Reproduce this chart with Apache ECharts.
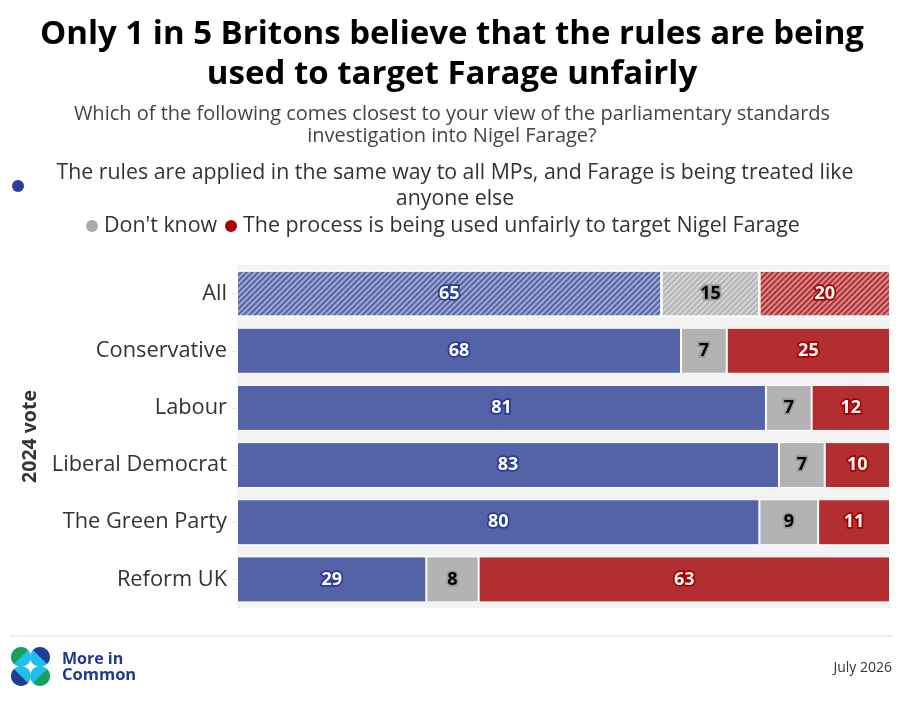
<!DOCTYPE html>
<html><head><meta charset="utf-8">
<script src="https://cdn.jsdelivr.net/npm/echarts@6/dist/echarts.min.js"></script>
<style>html,body{margin:0;padding:0;background:#fff}#c{width:904px;height:702px}</style>
</head><body><div id="c"></div>
<script>
const categories = ['All','Conservative','Labour','Liberal Democrat','The Green Party','Reform UK'];
const seriesNames = ['The rules are applied in the same way to all MPs, and Farage is being treated like anyone else', "Don't know", 'The process is being used unfairly to target Nigel Farage'];
const sameRules = [65, 68, 81, 83, 80, 29];
const dontKnow = [15, 7, 7, 7, 9, 8];
const unfair = [20, 25, 12, 10, 11, 63];

const FONT = 'Open Sans';
const barColors = ['#5462a8', '#b3b3b3', '#b22e30'];
const labelFill = ['#ffffff', '#000000', '#ffffff'];
const labelBorder = ['#2b3a98', '#9a9a9a', '#aa0000'];

function mkData(arr) {
  return arr.map((v, k) => k === 0 ? {
    value: v,
    itemStyle: { decal: { symbol: 'rect', symbolSize: 1, dashArrayX: [1, 0], dashArrayY: [2, 2], rotation: -Math.PI / 4, color: 'rgba(255,255,255,0.45)' } }
  } : v);
}
function mkSeries(arr, i) {
  return {
    name: seriesNames[i], type: 'bar', stack: 's', barWidth: 46,
    data: mkData(arr),
    itemStyle: { color: barColors[i], borderColor: '#ffffff', borderWidth: 1 },
    label: { show: true, position: 'inside', fontFamily: FONT, fontWeight: 'bold', fontSize: 18,
      color: labelFill[i], textBorderColor: labelBorder[i], textBorderWidth: 3.5 },
    emphasis: { disabled: true }
  };
}

const LEG = 21.4;
const chart = echarts.init(document.getElementById('c'), null, { renderer: 'canvas' });
chart.setOption({
  animation: false,
  backgroundColor: '#ffffff',
  textStyle: { fontFamily: FONT },
  title: [{
    text: 'Only 1 in 5 Britons believe that the rules are being\nused to target Farage unfairly',
    left: 447, top: 10, textAlign: 'center',
    textStyle: { fontFamily: FONT, fontWeight: 'bold', fontSize: 33, lineHeight: 40, color: '#000' }
  }, {
    text: 'Which of the following comes closest to your view of the parliamentary standards\ninvestigation into Nigel Farage?',
    left: 447, top: 98, textAlign: 'center',
    textStyle: { fontFamily: FONT, fontWeight: 'normal', fontSize: 20, lineHeight: 22, color: '#444' }
  }],
  grid: { left: 237, right: 14, top: 265, bottom: 94, show: true, backgroundColor: '#f3f3f3', borderWidth: 0 },
  xAxis: { type: 'value', min: 0, max: 100, show: false },
  yAxis: {
    type: 'category', data: categories, inverse: true,
    axisLine: { show: false },
    axisTick: { show: true, length: 5, lineStyle: { color: '#e6e6e6' }, alignWithLabel: true },
    axisLabel: { fontFamily: FONT, fontSize: 21.8, color: '#333', margin: 10 },
    name: '2024 vote', nameLocation: 'middle', nameRotate: 90, nameGap: 196,
    nameTextStyle: { fontFamily: FONT, fontWeight: 'bold', fontSize: 19.5, color: '#333' }
  },
  series: [mkSeries(sameRules, 0), mkSeries(dontKnow, 1), mkSeries(unfair, 2)],
  graphic: [
    { type: 'circle', shape: { cx: 18, cy: 186, r: 6 }, style: { fill: '#2e3d98' } },
    { type: 'text', x: 455, y: 173, style: { text: 'The rules are applied in the same way to all MPs, and Farage is being treated like', fontFamily: FONT, fontSize: 21.3, fill: '#333', align: 'center', verticalAlign: 'middle' } },
    { type: 'text', x: 455, y: 199, style: { text: 'anyone else', fontFamily: FONT, fontSize: 21.3, fill: '#333', align: 'center', verticalAlign: 'middle' } },
    { type: 'circle', shape: { cx: 92, cy: 226, r: 6 }, style: { fill: '#aaaaaa' } },
    { type: 'text', x: 104, y: 226, style: { text: "Don't know", fontFamily: FONT, fontSize: LEG, fill: '#333', align: 'left', verticalAlign: 'middle' } },
    { type: 'circle', shape: { cx: 231, cy: 226, r: 6 }, style: { fill: '#aa0000' } },
    { type: 'text', x: 243, y: 226, style: { text: 'The process is being used unfairly to target Nigel Farage', fontFamily: FONT, fontSize: LEG, fill: '#333', align: 'left', verticalAlign: 'middle' } },
    { type: 'line', shape: { x1: 10, y1: 636, x2: 893, y2: 636 }, style: { stroke: '#dddddd', lineWidth: 1 } },
    // logo
    { type: 'circle', shape: { cx: 21, cy: 657, r: 10 }, style: { fill: '#1fbfea' } },
    { type: 'circle', shape: { cx: 40, cy: 657, r: 10 }, style: { fill: '#1fbfea' } },
    { type: 'circle', shape: { cx: 21, cy: 676, r: 10 }, style: { fill: '#1fbfea' } },
    { type: 'circle', shape: { cx: 40, cy: 676, r: 10 }, style: { fill: '#1fbfea' } },
    { type: 'sector', shape: { cx: 21, cy: 657, r: 10, r0: 0, startAngle: Math.PI * 0.75, endAngle: Math.PI * 1.75 }, style: { fill: '#1aa05a' } },
    { type: 'sector', shape: { cx: 40, cy: 657, r: 10, r0: 0, startAngle: Math.PI * 1.25, endAngle: Math.PI * 2.25 }, style: { fill: '#223c9a' } },
    { type: 'sector', shape: { cx: 21, cy: 676, r: 10, r0: 0, startAngle: Math.PI * 0.25, endAngle: Math.PI * 1.25 }, style: { fill: '#223c9a' } },
    { type: 'sector', shape: { cx: 40, cy: 676, r: 10, r0: 0, startAngle: -Math.PI * 0.25, endAngle: Math.PI * 0.75 }, style: { fill: '#1aa05a' } },
    { type: 'text', x: 62, y: 659, style: { text: 'More in', fontFamily: FONT, fontWeight: 'bold', fontSize: 16, fill: '#1f3a93', verticalAlign: 'middle' } },
    { type: 'text', x: 62, y: 675, style: { text: 'Common', fontFamily: FONT, fontWeight: 'bold', fontSize: 16.5, fill: '#1f3a93', verticalAlign: 'middle' } },
    { type: 'text', x: 892, y: 668, style: { text: 'July 2026', fontFamily: FONT, fontSize: 14, fill: '#333', align: 'right', verticalAlign: 'middle' } }
  ]
});
</script></body></html>
